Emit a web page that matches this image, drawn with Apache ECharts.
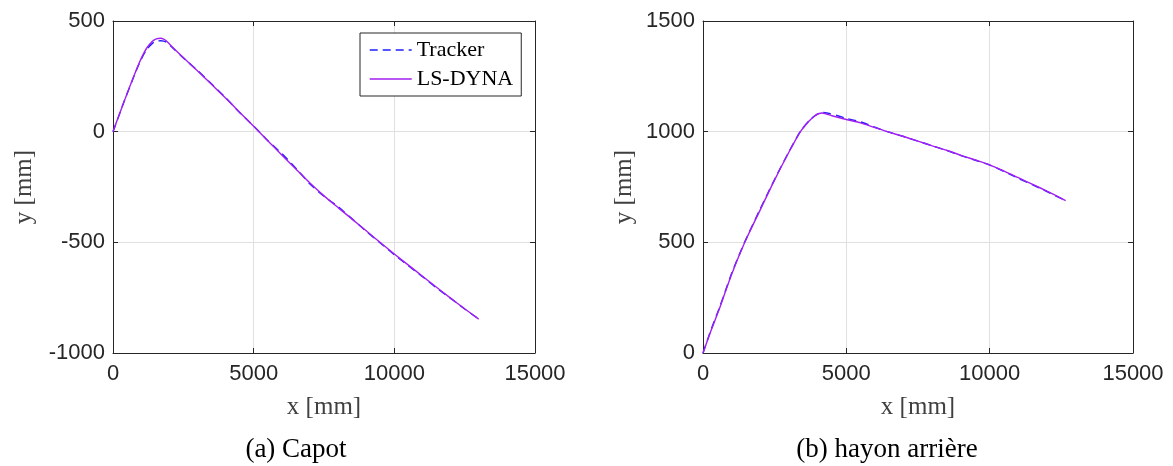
<!DOCTYPE html>
<html>
<head>
<meta charset="utf-8">
<script src="https://cdn.jsdelivr.net/npm/echarts@6/dist/echarts.min.js"></script>
<style>
html,body{margin:0;padding:0;background:#fff;}
#chart{width:1173px;height:466px;}
</style>
</head>
<body>
<div id="chart"></div>
<script>
// ---- Data ----
const xTicks = [0, 5000, 10000, 15000];
const capotYTicks = [-1000, -500, 0, 500];
const hayonYTicks = [0, 500, 1000, 1500];

const seriesNames = ['Tracker', 'LS-DYNA'];
const captions = ['(a) Capot', '(b) hayon arrière'];

// (a) Capot
const capotLsdynaX = [0, 200, 400, 600, 800, 1000, 1200, 1400, 1500, 1600, 1700, 1800, 1900, 2100, 2500, 3000, 3500, 4000, 4500, 5000, 5500, 6000, 6500, 7000, 7500, 8000, 8500, 9000, 9500, 10000, 10500, 11000, 11500, 12000, 12500, 13000];
const capotLsdynaY = [0, 70, 138, 205, 270, 330, 378, 408, 417, 421, 422, 418, 410, 384, 335, 275, 214, 152, 88, 24, -41, -105, -169, -232, -290, -343, -395, -448, -501, -553, -603, -653, -703, -752, -800, -847];
const capotTrackerX = [0, 180, 380, 600, 800, 1000, 1200, 1400, 1500, 1600, 1700, 1800, 1900, 2100, 2500, 3000, 3500, 4000, 4500, 5000, 5500, 6000, 6500, 7000, 7500, 8000, 8500, 9000, 9500, 10000, 10500, 11000, 11500, 12000, 12500, 12980];
const capotTrackerY = [0, 62, 132, 203, 268, 326, 372, 399, 406, 410, 411, 409, 404, 381, 333, 277, 216, 154, 87, 25, -40, -99, -165, -236, -292, -339, -394, -450, -503, -556, -606, -655, -706, -753, -801, -845];

// (b) hayon arrière
const hayonLsdynaX = [0, 300, 600, 1000, 1450, 2000, 2500, 3000, 3400, 3700, 3900, 4050, 4150, 4300, 4500, 5000, 5500, 6000, 6400, 7000, 7500, 8000, 8500, 9000, 9500, 10000, 10500, 11000, 11500, 12000, 12650];
const hayonLsdynaY = [0, 108, 210, 356, 498, 648, 782, 908, 1000, 1048, 1071, 1082, 1084, 1080, 1072, 1055, 1040, 1018, 1001, 978, 957, 936, 916, 893, 872, 850, 822, 792, 762, 731, 689];
const hayonTrackerX = [0, 300, 600, 1000, 1450, 2000, 2500, 3000, 3400, 3700, 3900, 4050, 4200, 4400, 4700, 5000, 5500, 6000, 6400, 7000, 7500, 8000, 8500, 9000, 9500, 10000, 10500, 11000, 11500, 12000, 12650];
const hayonTrackerY = [0, 112, 214, 360, 500, 652, 785, 910, 1002, 1049, 1072, 1083, 1087, 1082, 1072, 1060, 1044, 1020, 1001, 978, 957, 936, 915, 892, 871, 849, 820, 789, 760, 729, 688];

// ---- Build chart ----
const zip = (xs, ys) => xs.map((x, i) => [x, ys[i]]);
const TXT = '#262626';
const SANS = 'Liberation Sans';
const SERIF = 'Liberation Serif';
const BLUE = '#1f1fff';
const PURPLE = '#a21ff2';
const plainNum = v => String(v);

const grids = [
  { left: 113, top: 21, width: 422, height: 332 },
  { left: 703, top: 21, width: 430, height: 332 }
];

function mainX(gi) {
  return {
    type: 'value', gridIndex: gi, position: 'bottom',
    min: xTicks[0], max: xTicks[xTicks.length - 1], interval: xTicks[1] - xTicks[0],
    name: 'x [mm]', nameLocation: 'middle', nameGap: 42,
    nameTextStyle: { fontFamily: SERIF, fontSize: 25, color: '#404040' },
    axisLine: { show: true, onZero: false, lineStyle: { color: TXT, width: 1 } },
    axisTick: { show: true, inside: true, length: 5, lineStyle: { color: TXT } },
    axisLabel: { fontFamily: SANS, fontSize: 22, color: TXT, margin: 10, formatter: plainNum },
    splitLine: { show: true, lineStyle: { color: '#e0e0e0', width: 1 } }
  };
}
function topX(gi) {
  return {
    type: 'value', gridIndex: gi, position: 'top',
    min: xTicks[0], max: xTicks[xTicks.length - 1], interval: xTicks[1] - xTicks[0],
    axisLine: { show: true, onZero: false, lineStyle: { color: TXT, width: 1 } },
    axisTick: { show: true, inside: true, length: 5, lineStyle: { color: TXT } },
    axisLabel: { show: false }, splitLine: { show: false }
  };
}
function mainY(gi, ticks, gap) {
  return {
    type: 'value', gridIndex: gi, position: 'left',
    min: ticks[0], max: ticks[ticks.length - 1], interval: ticks[1] - ticks[0],
    name: 'y [mm]', nameLocation: 'middle', nameGap: gap,
    nameTextStyle: { fontFamily: SERIF, fontSize: 25, color: '#404040' },
    axisLine: { show: true, onZero: false, lineStyle: { color: TXT, width: 1 } },
    axisTick: { show: true, inside: true, length: 5, lineStyle: { color: TXT } },
    axisLabel: { fontFamily: SANS, fontSize: 22, color: TXT, margin: 8, formatter: plainNum },
    splitLine: { show: true, lineStyle: { color: '#e0e0e0', width: 1 } }
  };
}
function rightY(gi, ticks) {
  return {
    type: 'value', gridIndex: gi, position: 'right',
    min: ticks[0], max: ticks[ticks.length - 1], interval: ticks[1] - ticks[0],
    axisLine: { show: true, onZero: false, lineStyle: { color: TXT, width: 1 } },
    axisTick: { show: true, inside: true, length: 5, lineStyle: { color: TXT } },
    axisLabel: { show: false }, splitLine: { show: false }
  };
}

function lineSeries(name, xi, yi, data, color, dashed) {
  return {
    name: name, type: 'line', xAxisIndex: xi, yAxisIndex: yi,
    data: data, symbol: 'none', smooth: 0.25, animation: false,
    lineStyle: { color: color, width: 1.4, type: dashed ? [8, 5] : 'solid' },
    itemStyle: { color: color },
    z: dashed ? 2 : 3
  };
}

const option = {
  backgroundColor: '#ffffff',
  animation: false,
  grid: grids,
  xAxis: [mainX(0), mainX(1), topX(0), topX(1)],
  yAxis: [mainY(0, capotYTicks, 76), mainY(1, hayonYTicks, 66), rightY(0, capotYTicks), rightY(1, hayonYTicks)],
  legend: {
    data: seriesNames,
    orient: 'vertical', left: 360, top: 33,
    backgroundColor: '#ffffff',
    borderColor: TXT, borderWidth: 1, borderRadius: 0,
    padding: [6, 8, 6, 9], itemGap: 7,
    itemWidth: 42, itemHeight: 14,
    itemStyle: { opacity: 0 },
    lineStyle: { width: 1.4 },
    textStyle: { fontFamily: SERIF, fontSize: 22, color: '#000' }
  },
  graphic: [
    { type: 'text', style: { text: captions[0], x: 296, y: 450, fontFamily: SERIF, fontSize: 27, fill: '#000', align: 'center', verticalAlign: 'middle' } },
    { type: 'text', style: { text: captions[1], x: 887, y: 450, fontFamily: SERIF, fontSize: 27, fill: '#000', align: 'center', verticalAlign: 'middle' } }
  ],
  series: [
    lineSeries(seriesNames[0], 0, 0, zip(capotTrackerX, capotTrackerY), BLUE, true),
    lineSeries(seriesNames[1], 0, 0, zip(capotLsdynaX, capotLsdynaY), PURPLE, false),
    lineSeries(seriesNames[0], 1, 1, zip(hayonTrackerX, hayonTrackerY), BLUE, true),
    lineSeries(seriesNames[1], 1, 1, zip(hayonLsdynaX, hayonLsdynaY), PURPLE, false)
  ]
};

const chart = echarts.init(document.getElementById('chart'), null, { renderer: 'canvas' });
chart.setOption(option);
</script>
</body>
</html>
